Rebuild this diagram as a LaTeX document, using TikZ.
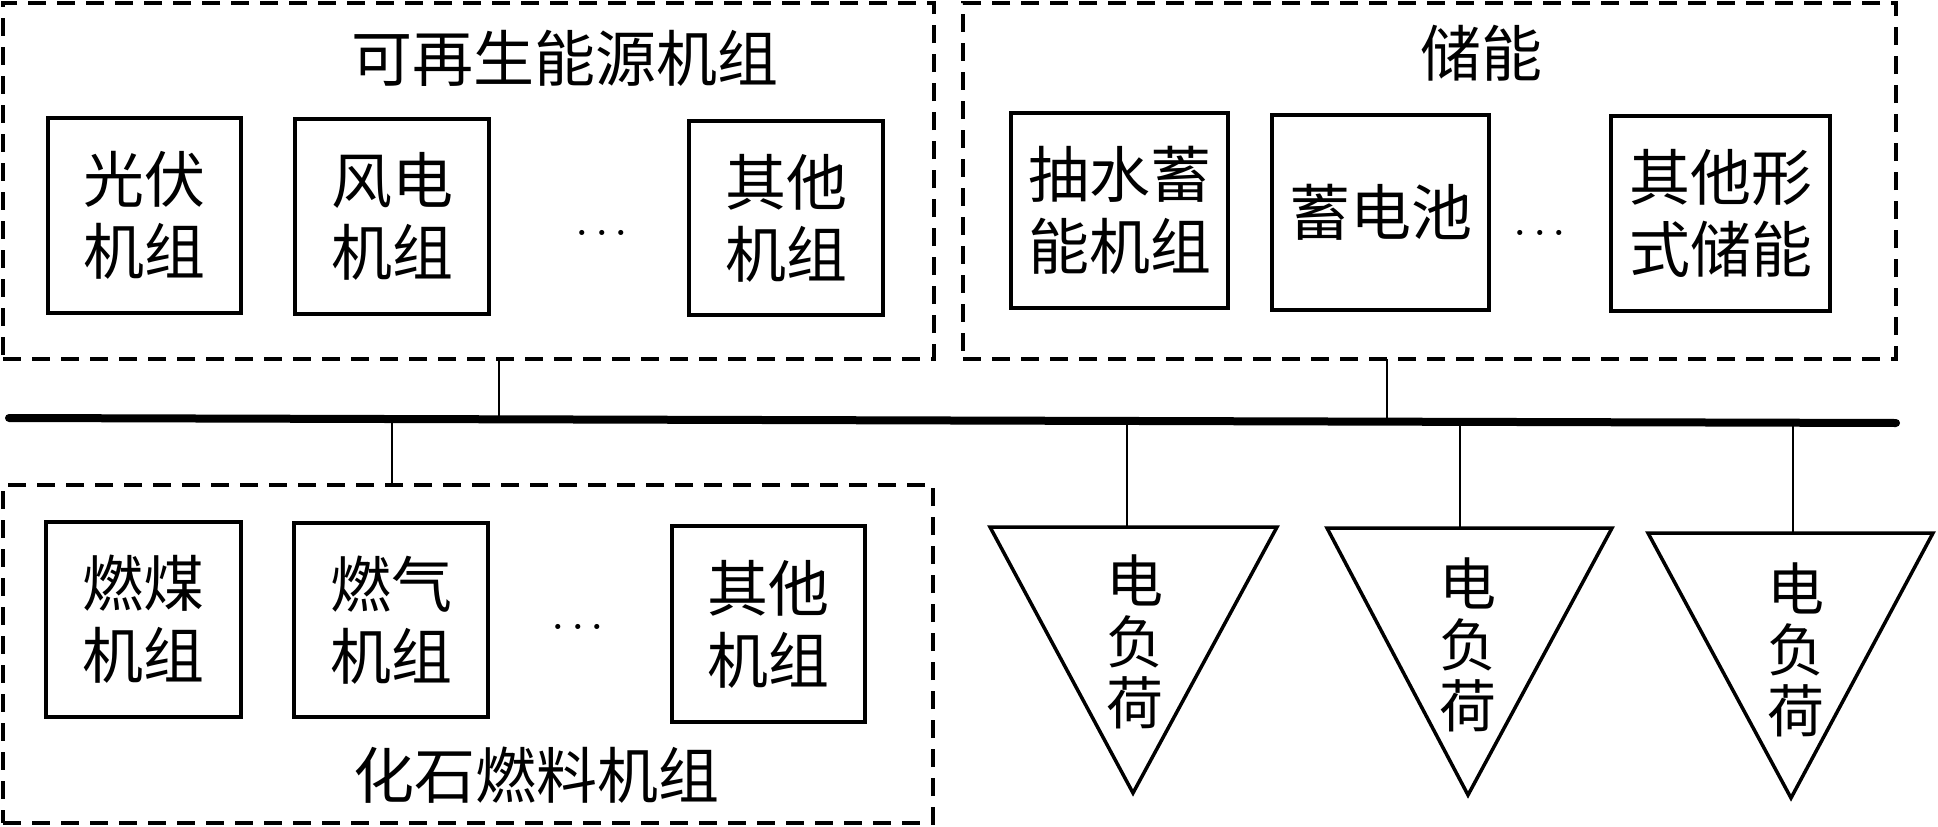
\documentclass[tikz,border=0pt]{standalone}
\usepackage{fontspec}
\newfontfamily\cjk{Noto Sans CJK SC}
\begin{document}
\begin{tikzpicture}[x=1pt,y=-1pt,
  grp/.style={draw, line width=4pt, dash pattern=on 18pt off 11pt, inner sep=0pt, outer sep=0pt},
  unit/.style={draw, line width=4pt, inner sep=0pt, outer sep=0pt, align=center, font=\cjk\fontsize{61}{72}\selectfont},
  ttl/.style={font=\cjk\fontsize{61}{70}\selectfont, inner sep=0pt},
  dotsn/.style={font=\fontsize{62}{70}\selectfont, inner sep=0pt},
  wire/.style={line width=2.5pt},
  busline/.style={line width=8pt, line cap=round},
  loadtri/.style={line width=3.5pt, line join=miter},
  loadtxt/.style={align=center, inner sep=0pt, font=\cjk\fontsize{57}{61}\selectfont}]
\useasboundingbox (0,0) rectangle (1938,827);

% group frames
\node[grp, minimum width=931pt, minimum height=356pt] (ren) at (468.5,181) {};
\node[grp, minimum width=933pt, minimum height=356pt] (sto) at (1429.5,181) {};
\node[grp, minimum width=930pt, minimum height=338pt] (fos) at (468,654) {};

% titles
\node[ttl] (rentitle) at (565,58) {可再生能源机组};
\node[ttl] (stotitle) at (1481,53) {储能};
\node[ttl] (fostitle) at (536,775) {化石燃料机组};

% renewable units
\node[unit, minimum width=193pt, minimum height=195pt] (pv) at (144.5,215.5) {光伏\\机组};
\node[unit, minimum width=194pt, minimum height=195pt] (wind) at (392,216.5) {风电\\机组};
\node[unit, minimum width=194pt, minimum height=194pt] (roth) at (786,218) {其他\\机组};
\node[dotsn] (rdots) at (602,233) {.\hspace{4pt}.\hspace{4pt}.};

% storage units
\node[unit, minimum width=217pt, minimum height=195pt] (pump) at (1119.5,210.5) {抽水蓄\\能机组};
\node[unit, minimum width=217pt, minimum height=195pt] (batt) at (1380.5,212.5) {蓄电池};
\node[unit, minimum width=219pt, minimum height=195pt] (soth) at (1720.5,213.5) {其他形\\式储能};
\node[dotsn] (sdots) at (1540,233) {.\hspace{4pt}.\hspace{4pt}.};

% fossil units
\node[unit, minimum width=195pt, minimum height=195pt] (coal) at (143.5,619.5) {燃煤\\机组};
\node[unit, minimum width=194pt, minimum height=194pt] (gas) at (391,620) {燃气\\机组};
\node[unit, minimum width=193pt, minimum height=196pt] (foth) at (768.5,624) {其他\\机组};
\node[dotsn] (fdots) at (578,627) {.\hspace{4pt}.\hspace{4pt}.};

% bus
\coordinate (busL) at (9,418);
\coordinate (busR) at (1896,423);
\draw[busline] (busL) -- (busR);

% bus taps
\coordinate (tren) at (499,418);
\coordinate (tsto) at (1387,421);
\coordinate (tfos) at (392,418);
\coordinate (tl1) at (1127,421);
\coordinate (tl2) at (1460,422);
\coordinate (tl3) at (1793,423);

\draw[wire] (ren.south -| tren) -- (tren);
\draw[wire] (sto.south -| tsto) -- (tsto);
\draw[wire] (tfos) -- (fos.north -| tfos);

% loads
\coordinate (l1a) at (990,527);
\coordinate (l1b) at (1277,527);
\coordinate (l1c) at (1133,793);
\coordinate (l2a) at (1327,528);
\coordinate (l2b) at (1612,528);
\coordinate (l2c) at (1468,795);
\coordinate (l3a) at (1648,533);
\coordinate (l3b) at (1933,533);
\coordinate (l3c) at (1791,798);
\draw[loadtri] (l1a) -- (l1b) -- (l1c) -- cycle;
\draw[loadtri] (l2a) -- (l2b) -- (l2c) -- cycle;
\draw[loadtri] (l3a) -- (l3b) -- (l3c) -- cycle;
\draw[wire] (tl1) -- (tl1 |- l1a);
\draw[wire] (tl2) -- (tl2 |- l2a);
\draw[wire] (tl3) -- (tl3 |- l3a);
\node[loadtxt] (load1) at (1135,642) {电\\负\\荷};
\node[loadtxt] (load2) at (1468,645) {电\\负\\荷};
\node[loadtxt] (load3) at (1796,650) {电\\负\\荷};
\end{tikzpicture}
\end{document}
